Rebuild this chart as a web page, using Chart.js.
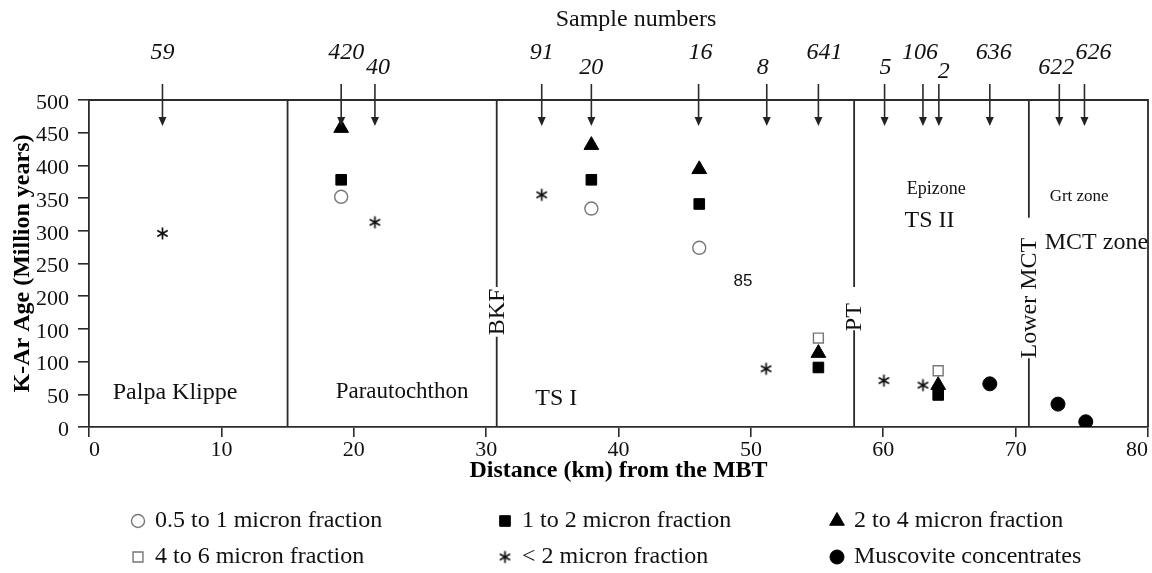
<!DOCTYPE html>
<html>
<head>
<meta charset="utf-8">
<script src="https://cdn.jsdelivr.net/npm/chart.js@4.4.0/dist/chart.umd.min.js"></script>
<style>
html,body{margin:0;padding:0;background:#fff;}
#wrap{width:1152px;height:573px;position:relative;}
</style>
</head>
<body>
<div id="wrap"><canvas id="c" width="1152" height="573"></canvas></div>
<script>
// ---------- data ----------
const xTickValues = [0, 10, 20, 30, 40, 50, 60, 70, 80];
const yTickValues = [0, 50, 100, 150, 200, 250, 300, 350, 400, 450, 500];
const yTickLabels = ['0', '50', '100', '100', '200', '250', '300', '350', '400', '450', '500'];

const dist_05_1 = [19.05, 37.95, 46.1];
const age_05_1  = [352, 334, 274];
const dist_1_2  = [19.05, 37.95, 46.1, 55.1, 64.15];
const age_1_2   = [378, 378, 341, 91, 49];
const dist_2_4  = [19.05, 37.95, 46.1, 55.1, 64.15];
const age_2_4   = [457, 431, 394, 113, 64];
const dist_4_6  = [55.1, 64.15];
const age_4_6   = [136, 86];
const dist_lt2  = [5.55, 21.6, 34.2, 51.15, 60.05, 63.0];
const age_lt2   = [296, 313, 355, 89, 71, 64];
const dist_musc = [68.05, 73.2, 75.3];
const age_musc  = [66, 35, 8];

const seriesNames = ['0.5 to 1 micron fraction', '1 to 2 micron fraction', '2 to 4 micron fraction',
                     '4 to 6 micron fraction', '< 2 micron fraction', 'Muscovite concentrates'];

const sampleNumbers = ['59', '420', '40', '91', '20', '16', '8', '641', '5', '106', '2', '636', '622', '626'];
const sampleDist    = [5.55, 19.05, 21.6, 34.2, 37.95, 46.05, 51.2, 55.1, 60.1, 63.0, 64.2, 68.05, 73.3, 75.2];
const sampleLabelDx = [0, 5, 3, 0, 0, 2, -4, 6, 1, -3, 5, 4, -3, 9];
const sampleLabelRow= [0, 0, 1, 0, 1, 0, 1, 0, 1, 0, 2, 0, 1, 0];

const boundaryX       = [15, 30.8, 57.8, 71.0];
const boundaryLabels  = ['', 'BKF', 'PT', 'Lower MCT'];
const boundaryLabelY  = [0, 176, 168, 197];
const boundaryGapTop  = [0, 214, 214, 320];
const boundaryGapBot  = [0, 138, 148, 105];

const regionText = ['Palpa Klippe', 'Parautochthon', 'TS I', 'Epizone', 'TS II', 'Grt zone', 'MCT zone', '85'];
const regionX    = [6.5, 23.65, 35.3, 64.0, 63.5, 74.8, 76.1, 49.4];
const regionY    = [52, 54, 44, 364, 316, 353, 282, 222];
const regionFont = ['24px', '23px', '24px', '18px', '24px', '17px', '24px', '17px'];

// ---------- styling helpers ----------
const SERIF = '"Liberation Serif", "Times New Roman", serif';
const LINE = '#2b2b2b';

function pts(xs, ys) { return xs.map((v, i) => ({x: v, y: ys[i]})); }

function makeAsterisk() {
  const c = document.createElement('canvas');
  c.width = 15; c.height = 15;
  const g = c.getContext('2d');
  g.strokeStyle = '#111'; g.lineWidth = 1.7;
  const cx = 7.5, cy = 7.5, r = 6;
  g.beginPath();
  for (let k = 0; k < 3; k++) {
    const a = Math.PI / 2 + k * Math.PI / 3;
    g.moveTo(cx + r * Math.cos(a), cy + r * Math.sin(a));
    g.lineTo(cx - r * Math.cos(a), cy - r * Math.sin(a));
  }
  g.stroke();
  return c;
}
const asterisk = makeAsterisk();

const datasets = [
  {label: seriesNames[0], data: pts(dist_05_1, age_05_1), pointStyle: 'circle', pointRadius: 6.5,
   backgroundColor: '#fff', borderColor: '#777', borderWidth: 1.4},
  {label: seriesNames[1], data: pts(dist_1_2, age_1_2), pointStyle: 'rect', pointRadius: 7.5,
   backgroundColor: '#000', borderColor: '#000', borderWidth: 1},
  {label: seriesNames[2], data: pts(dist_2_4, age_2_4), pointStyle: 'triangle', pointRadius: 8.5,
   backgroundColor: '#000', borderColor: '#000', borderWidth: 1},
  {label: seriesNames[3], data: pts(dist_4_6, age_4_6), pointStyle: 'rect', pointRadius: 7,
   backgroundColor: '#fff', borderColor: '#777', borderWidth: 1.4},
  {label: seriesNames[4], data: pts(dist_lt2, age_lt2), pointStyle: asterisk, pointRadius: 7,
   backgroundColor: '#000', borderColor: '#000', borderWidth: 1},
  {label: seriesNames[5], data: pts(dist_musc, age_musc), pointStyle: 'circle', pointRadius: 7,
   backgroundColor: '#000', borderColor: '#000', borderWidth: 1}
];

const legendCols = [138, 505, 837];
const legendRows = [521, 557];
const legendTextGap = 17;

const decor = {
  id: 'decor',
  beforeDatasetsDraw(chart) {
    const {ctx, chartArea: a, scales: {x, y}} = chart;
    ctx.save();
    ctx.strokeStyle = LINE; ctx.lineWidth = 1.8;
    ctx.beginPath();
    ctx.moveTo(a.left, a.top); ctx.lineTo(a.right, a.top); ctx.lineTo(a.right, a.bottom);
    ctx.stroke();
    boundaryX.forEach((bx, i) => {
      const px = x.getPixelForValue(bx);
      ctx.beginPath();
      if (boundaryLabels[i]) {
        const gt = y.getPixelForValue(boundaryGapTop[i]);
        const gb = y.getPixelForValue(boundaryGapBot[i]);
        ctx.moveTo(px, a.top); ctx.lineTo(px, gt);
        ctx.moveTo(px, gb); ctx.lineTo(px, a.bottom);
      } else {
        ctx.moveTo(px, a.top); ctx.lineTo(px, a.bottom);
      }
      ctx.stroke();
      if (boundaryLabels[i]) {
        ctx.save();
        ctx.translate(px, y.getPixelForValue(boundaryLabelY[i]));
        ctx.rotate(-Math.PI / 2);
        ctx.font = '24px ' + SERIF;
        ctx.textAlign = 'center'; ctx.textBaseline = 'middle';
        ctx.fillStyle = '#111';
        ctx.fillText(boundaryLabels[i], 0, 1);
        ctx.restore();
      }
    });
    // region labels
    regionText.forEach((t, i) => {
      ctx.font = regionFont[i] + ' ' + (t === '85' ? '"Liberation Sans", Arial, sans-serif' : SERIF);
      ctx.fillStyle = '#111';
      ctx.textAlign = 'center'; ctx.textBaseline = 'middle';
      ctx.fillText(t, x.getPixelForValue(regionX[i]), y.getPixelForValue(regionY[i]));
    });
    ctx.restore();
  },
  afterDraw(chart) {
    const {ctx, chartArea: a, scales: {x}} = chart;
    ctx.save();
    // header
    ctx.fillStyle = '#111';
    ctx.font = '24px ' + SERIF;
    ctx.textAlign = 'center'; ctx.textBaseline = 'middle';
    ctx.fillText('Sample numbers', 636, 20);
    // arrows + sample numbers
    const top = a.top - 16, tip = a.top + 26;
    ctx.strokeStyle = LINE; ctx.fillStyle = '#222'; ctx.lineWidth = 1.6;
    sampleDist.forEach((d, i) => {
      const px = x.getPixelForValue(d);
      ctx.beginPath(); ctx.moveTo(px, top); ctx.lineTo(px, tip - 6); ctx.stroke();
      ctx.beginPath(); ctx.moveTo(px - 4, tip - 9); ctx.lineTo(px + 4, tip - 9); ctx.lineTo(px, tip); ctx.closePath(); ctx.fill();
      ctx.font = 'italic 24px ' + SERIF;
      ctx.fillStyle = '#111';
      const rowY = [53, 68, 72][sampleLabelRow[i]];
      ctx.fillText(sampleNumbers[i], px + sampleLabelDx[i], rowY);
      ctx.fillStyle = '#222';
    });
    // legend
    chart.data.datasets.forEach((ds, i) => {
      const cx = legendCols[i % 3], cy = legendRows[Math.floor(i / 3)];
      ctx.save();
      ctx.fillStyle = ds.backgroundColor; ctx.strokeStyle = ds.borderColor; ctx.lineWidth = ds.borderWidth;
      Chart.helpers.drawPoint(ctx, {pointStyle: ds.pointStyle, radius: ds.pointRadius, rotation: 0, borderWidth: ds.borderWidth}, cx, cy);
      ctx.restore();
      ctx.fillStyle = '#111';
      ctx.font = '24px ' + SERIF;
      ctx.textAlign = 'left'; ctx.textBaseline = 'middle';
      ctx.fillText(ds.label, cx + legendTextGap, cy);
    });
    ctx.restore();
  }
};

const noPad = () => ({left: 0, top: 0, right: 0, bottom: 0});

new Chart(document.getElementById('c'), {
  type: 'scatter',
  data: {datasets},
  options: {
    responsive: false, animation: false, devicePixelRatio: 1,
    layout: {autoPadding: false, padding: {top: 100, right: 4, bottom: 88, left: 0}},
    plugins: {legend: {display: false}, tooltip: {enabled: false}},
    scales: {
      x: {
        type: 'linear', min: 0, max: 80,
        afterBuildTicks: s => { s.ticks = xTickValues.map(v => ({value: v})); },
        ticks: {color: '#111', font: {family: SERIF, size: 22}, padding: 0, maxRotation: 0, autoSkip: false, align: 'inner'},
        grid: {display: true, drawOnChartArea: false, drawTicks: true, tickLength: 10, color: LINE, lineWidth: 1.6},
        border: {display: true, color: LINE, width: 1.8},
        title: {display: true, text: 'Distance (km) from the MBT', color: '#000',
                font: {family: SERIF, size: 24, weight: 'bold'}, padding: {top: 0, bottom: 0}},
        afterFit: s => { s.height = 58; s.paddingLeft = 0; s.paddingRight = 0; s.getPadding = noPad; }
      },
      y: {
        type: 'linear', min: 0, max: 500,
        afterBuildTicks: s => { s.ticks = yTickValues.map(v => ({value: v})); },
        ticks: {color: '#111', font: {family: SERIF, size: 22}, padding: 9, labelOffset: 3, autoSkip: false,
                callback: (v) => yTickLabels[yTickValues.indexOf(v)]},
        grid: {display: true, drawOnChartArea: false, drawTicks: true, tickLength: 11, color: LINE, lineWidth: 1.6},
        border: {display: true, color: LINE, width: 1.8},
        title: {display: true, text: 'K-Ar Age (Million years)', color: '#000',
                font: {family: SERIF, size: 24, weight: 'bold'}, padding: {top: 8, bottom: 0}},
        afterFit: s => { s.width = 89; s.paddingTop = 0; s.paddingBottom = 0; s.getPadding = noPad; }
      }
    }
  },
  plugins: [decor]
});
</script>
</body>
</html>
